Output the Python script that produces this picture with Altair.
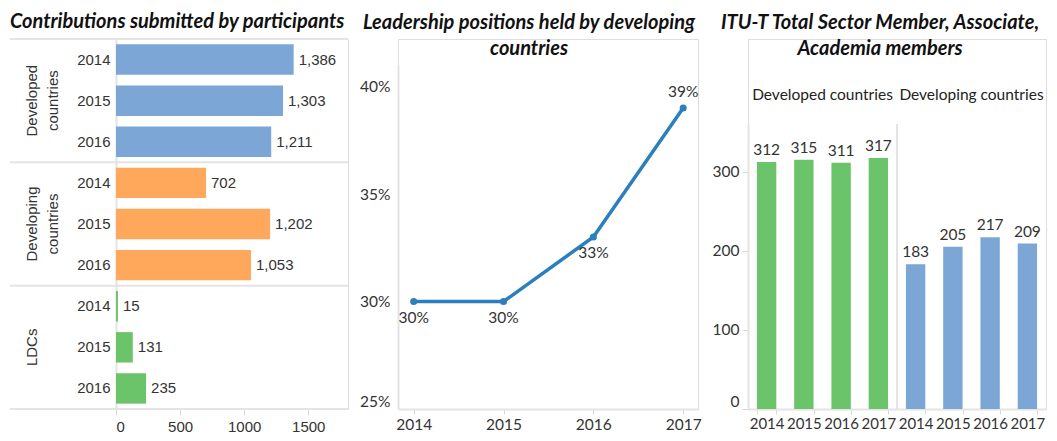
import altair as alt
import pandas as pd

# ---------------- data ----------------
contrib_groups = ["Developed countries", "Developing countries", "LDCs"]
contrib_group_labels = ["Developed\ncountries", "Developing\ncountries", "LDCs"]
contrib_years = ["2014", "2015", "2016"]
developed_contrib = [1386, 1303, 1211]
developing_contrib = [702, 1202, 1053]
ldc_contrib = [15, 131, 235]
contrib_ticks = [0, 500, 1000, 1500]

leader_years = [2014, 2015, 2016, 2017]
leader_share = [0.30, 0.30, 0.33, 0.39]
leader_ticks = [0.25, 0.30, 0.35, 0.40]

member_groups = ["Developed countries", "Developing countries"]
member_years = ["2014", "2015", "2016", "2017"]
developed_members = [312, 315, 311, 317]
developing_members = [183, 205, 217, 209]
member_ticks = [0, 100, 200, 300]

titles = {
    "p1": "Contributions submitted by participants",
    "p2": ["Leadership positions held by developing", "countries"],
    "p3": ["ITU-T Total Sector Member, Associate,", "Academia members"],
}

# ---------------- style ----------------
BLUE = "#7ba6d5"
ORANGE = "#ffa75a"
GREEN = "#6cc46a"
LINE = "#2b7fbd"
GRID = "#e4e4e4"
TICK = "#d8d8d8"
TXT = "#333333"
ARIAL = "Liberation Sans"
LATO = "Lato"

P1W = 232
H = 370
P2W = 300
P3W = 298


def title_params(text, anchor, dx, dy, size=20, lh=26):
    return alt.TitleParams(text=text, anchor=anchor, frame="group", font=LATO, fontSize=size,
                           fontWeight="bold", fontStyle="italic", color="#111111",
                           dx=dx, dy=dy, offset=0, lineHeight=lh)


one = alt.Chart(pd.DataFrame({"k": [0]}))

# ---------------- panel 1 ----------------
rows = []
for g, vals in zip(contrib_groups, [developed_contrib, developing_contrib, ldc_contrib]):
    for yr, v in zip(contrib_years, vals):
        rows.append({"group": g, "year": yr, "contrib": v, "key": f"{g}|{yr}"})
df1 = pd.DataFrame(rows)
keys1 = list(df1["key"])
b1 = alt.Chart(df1)

y1 = alt.Y("key:N", sort=keys1,
           scale=alt.Scale(paddingInner=0.26, paddingOuter=0.13),
           axis=alt.Axis(title=None, labelExpr="split(datum.value, '|')[1]",
                         labelFont=ARIAL, labelFontSize=15, labelColor=TXT,
                         labelPadding=6, ticks=False, domainColor=GRID, domainWidth=2))
x1 = alt.X("contrib:Q", scale=alt.Scale(domain=[0, 1810], nice=False),
           axis=alt.Axis(title=None, values=contrib_ticks, format="d", labelFont=ARIAL,
                         labelFontSize=15, labelColor=TXT, domain=False, tickColor=TICK,
                         tickSize=6, labelPadding=4, grid=False))
color1 = alt.Color("group:N", scale=alt.Scale(domain=contrib_groups, range=[BLUE, ORANGE, GREEN]),
                   legend=None)
bars1 = b1.mark_bar().encode(x=x1, y=y1, color=color1)
vals1 = b1.mark_text(align="left", baseline="middle", dx=5, font=ARIAL, fontSize=15,
                     color=TXT).encode(x=x1, y=y1, text=alt.Text("contrib:Q", format=","))

grp_df = pd.DataFrame({"label": contrib_group_labels,
                       "key": [f"{g}|{contrib_years[1]}" for g in contrib_groups]})
grp_text = alt.Chart(grp_df).mark_text(angle=270, lineBreak="\n", align="center",
                                       baseline="middle", font=ARIAL, fontSize=15,
                                       lineHeight=21, color=TXT).encode(
    x=alt.value(-84), y=alt.Y("key:N", sort=keys1), text="label:N")

seps = [one.mark_rule(color=GRID, strokeWidth=2).encode(
    x=alt.value(-106), x2=alt.value(P1W), y=alt.value(H * i / 3)) for i in range(4)]

panel1 = alt.layer(*seps, bars1, vals1, grp_text).properties(
    width=P1W, height=H, title=title_params(titles["p1"], "start", -106, -6))

# ---------------- panel 2 ----------------
df2 = pd.DataFrame({"year": leader_years, "share": leader_share})
b2 = alt.Chart(df2)
quarter_ticks = [2014 + 0.25 * i for i in range(13)]
x2 = alt.X("year:Q", scale=alt.Scale(domain=[2013.825, 2017.165], nice=False, zero=False),
           axis=alt.Axis(title=None, values=quarter_ticks, format="d",
                         labelExpr="datum.value % 1 == 0 ? datum.label : ''",
                         grid=False, tickColor=TICK, tickSize=5, domainColor=GRID,
                         domainWidth=2, labelFont=LATO, labelFontSize=15.5, labelColor=TXT,
                         labelPadding=3))
y2 = alt.Y("share:Q", scale=alt.Scale(domain=[0.25, 0.41], range=[H, 26], nice=False, zero=False),
           axis=alt.Axis(title=None, values=leader_ticks, format=".0%", grid=False, ticks=False,
                         domainColor=GRID, domainWidth=2, labelFont=LATO, labelFontSize=15.5,
                         labelColor=TXT, labelPadding=8, labelFlush=True))
line = b2.mark_line(color=LINE, strokeWidth=3.5).encode(x=x2, y=y2)
pts = b2.mark_point(filled=True, color=LINE, size=50, opacity=1).encode(x=x2, y=y2)
lab_below = b2.transform_filter(alt.datum.year < 2017).mark_text(
    baseline="middle", dy=16, font=LATO, fontSize=15.5, color=TXT).encode(
    x=x2, y=y2, text=alt.Text("share:Q", format=".0%"))
lab_above = b2.transform_filter(alt.datum.year >= 2017).mark_text(
    baseline="middle", dy=-16, font=LATO, fontSize=15.5, color=TXT).encode(
    x=x2, y=y2, text=alt.Text("share:Q", format=".0%"))
panel2 = alt.layer(line, pts, lab_below, lab_above).properties(
    width=P2W, height=H, title=title_params(titles["p2"], "middle", -19, 20))

# ---------------- panel 3 ----------------
rows = []
for g, vals in zip(member_groups, [developed_members, developing_members]):
    for yr, v in zip(member_years, vals):
        rows.append({"group": g, "year": yr, "members": v, "key": f"{g}|{yr}"})
df3 = pd.DataFrame(rows)
keys3 = list(df3["key"])
b3 = alt.Chart(df3)
x3 = alt.X("key:N", sort=keys3, scale=alt.Scale(paddingInner=0.48, paddingOuter=0.24),
           axis=alt.Axis(title=None, labelAngle=0, labelExpr="split(datum.value, '|')[1]",
                         labelFont=LATO, labelFontSize=15, labelColor=TXT, tickBand="extent",
                         tickColor=TICK, tickSize=5, domainColor=GRID, domainWidth=2,
                         labelPadding=2))
y3 = alt.Y("members:Q", scale=alt.Scale(domain=[0, 360], range=[H, 85], nice=False),
           axis=alt.Axis(title=None, values=member_ticks, grid=False, labelFont=LATO,
                         labelFontSize=15.5, labelColor=TXT, tickColor=TICK, tickSize=6,
                         domainColor=GRID, domainWidth=2, labelFlush=True, labelPadding=3))
color3 = alt.Color("group:N", scale=alt.Scale(domain=member_groups, range=[GREEN, BLUE]),
                   legend=None)
bars3 = b3.mark_bar().encode(x=x3, y=y3, color=color3)
vals3 = b3.mark_text(baseline="bottom", dy=-4, font=LATO, fontSize=15.5, color=TXT).encode(
    x=x3, y=y3, text="members:Q")
divider = one.mark_rule(color=GRID, strokeWidth=2).encode(
    x=alt.value(P3W / 2), y=alt.value(85), y2=alt.value(H))
headers = [
    alt.Chart(pd.DataFrame({"h": [member_groups[i]]})).mark_text(
        font=LATO, fontSize=15.5, color="#222222", baseline="middle", align="center").encode(
        x=alt.value(P3W * (2 * i + 1) / 4), y=alt.value(56), text="h:N")
    for i in range(2)
]
panel3 = alt.layer(divider, bars3, vals3, *headers).properties(
    width=P3W, height=H, title=title_params(titles["p3"], "middle", -17, 20))

chart = alt.hconcat(panel1, panel2, panel3, spacing=50, bounds="flush").resolve_scale(
    x="independent", y="independent", color="independent"
).properties(padding={"top": 3, "left": 0, "right": 0, "bottom": 0}).configure_view(
    stroke=None).configure(background="white")

chart.save("out.html", embed_options={"renderer": "svg", "actions": False})
